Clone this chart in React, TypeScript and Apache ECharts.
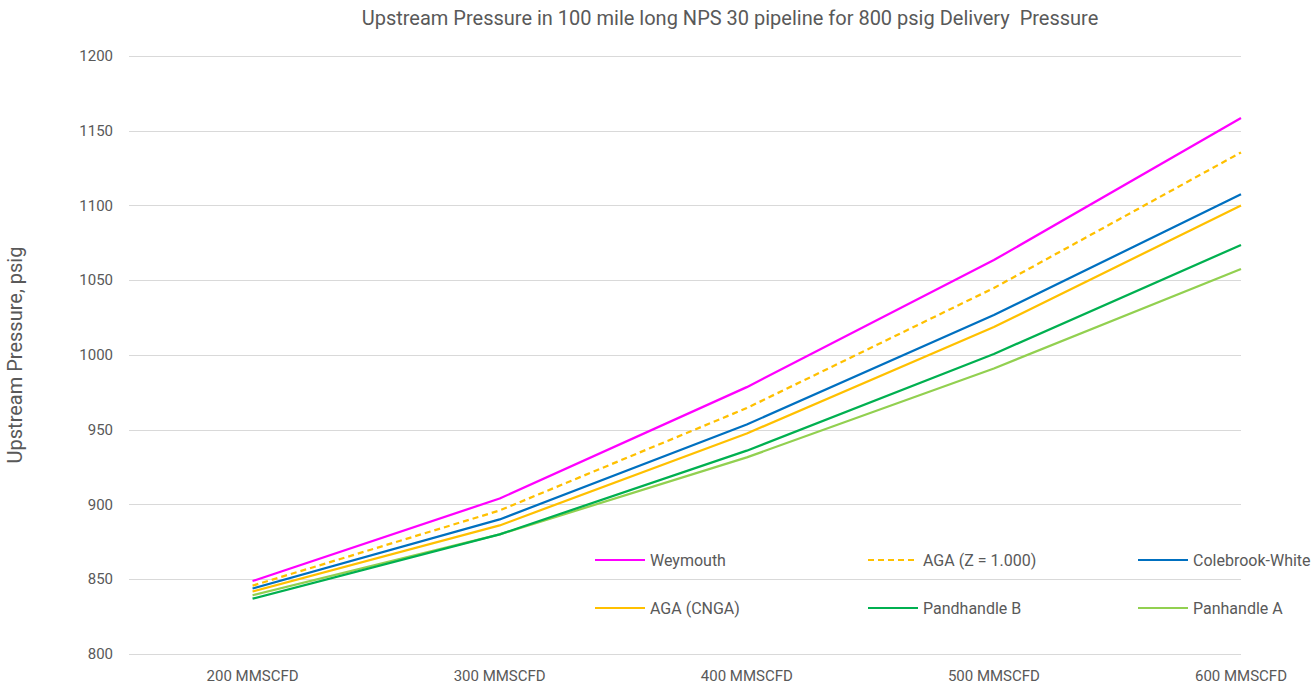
import React, { useEffect, useRef } from "react";
import * as echarts from "echarts";

const flows = [200, 300, 400, 500, 600];
const flowLabels = flows.map((f) => `${f} MMSCFD`);
const yTicks = [800, 850, 900, 950, 1000, 1050, 1100, 1150, 1200];

const seriesNames = [
  "Weymouth",
  "AGA (Z = 1.000)",
  "Colebrook-White",
  "AGA (CNGA)",
  "Pandhandle B",
  "Panhandle A",
];
const weymouth = [848.8, 904, 978.5, 1063.5, 1158.5];
const agaZ = [845.7, 896, 964.5, 1044.8, 1135.5];
const colebrook = [843.8, 890, 953.5, 1026.7, 1107.5];
const agaCnga = [841.8, 886, 947.5, 1018.7, 1100];
const panhandleB = [837, 880, 936, 1000.7, 1073.6];
const panhandleA = [839.3, 880, 931.5, 991, 1057.5];

const seriesValues = [weymouth, agaZ, colebrook, agaCnga, panhandleB, panhandleA];
const seriesColors = ["#FF00FF", "#FFC000", "#0070C0", "#FFC000", "#00B050", "#92D050"];
const seriesDash: any[] = ["solid", [6, 4], "solid", "solid", "solid", "solid"];

const FONT = "'Liberation Sans Narrow', 'Roboto', sans-serif";
const GRAY = "#595959";

export default function App() {
  const ref = useRef<HTMLDivElement>(null);
  useEffect(() => {
    if (!ref.current) return;
    const chart = echarts.init(ref.current, undefined, { renderer: "svg" });
    const legendCol = (names: string[], left: number) => ({
      show: true,
      orient: "vertical",
      left,
      top: 547,
      itemWidth: 50,
      itemHeight: 14,
      itemGap: 32,
      data: names,
      itemStyle: { opacity: 0 },
      textStyle: { color: GRAY, fontSize: 16, fontFamily: FONT },
    });
    chart.setOption({
      animation: false,
      backgroundColor: "#ffffff",
      title: {
        text: "Upstream Pressure in 100 mile long NPS 30 pipeline for 800 psig Delivery  Pressure",
        left: 725,
        top: 3,
        textAlign: "center",
        textStyle: { color: GRAY, fontSize: 20, fontWeight: "normal", fontFamily: FONT },
      },
      legend: [
        legendCol([seriesNames[0], seriesNames[3]], 589),
        legendCol([seriesNames[1], seriesNames[4]], 862),
        legendCol([seriesNames[2], seriesNames[5]], 1132),
      ],
      grid: {
        left: 129,
        right: 74,
        top: 56,
        bottom: 33,
        containLabel: false,
        outerBoundsMode: "none",
      },
      xAxis: {
        type: "value",
        min: 150,
        max: 600,
        splitLine: { show: false },
        axisLine: { show: false },
        axisTick: { show: false },
        axisLabel: {
          customValues: flows,
          formatter: (v: number) => flowLabels[flows.indexOf(v)] ?? "",
          color: GRAY,
          fontSize: 15,
          fontFamily: FONT,
          margin: 14,
        },
      },
      yAxis: {
        type: "value",
        min: yTicks[0],
        max: yTicks[yTicks.length - 1],
        interval: 50,
        name: "Upstream Pressure, psig",
        nameLocation: "middle",
        nameGap: 104,
        nameRotate: 90,
        nameTextStyle: { color: GRAY, fontSize: 20, fontFamily: FONT },
        axisLine: { show: false },
        axisTick: { show: false },
        splitLine: { lineStyle: { color: "#D9D9D9", width: 1 } },
        axisLabel: {
          color: GRAY,
          fontSize: 15,
          fontFamily: FONT,
          margin: 16,
          formatter: (v: number) => String(v),
        },
      },
      series: seriesNames.map((name, i) => ({
        name,
        type: "line",
        symbol: "none",
        data: flows.map((f, j) => [f, seriesValues[i][j]]),
        color: seriesColors[i],
        lineStyle: { color: seriesColors[i], width: 2.25, type: seriesDash[i] },
        z: 10 - i,
      })),
    });
    return () => chart.dispose();
  }, []);
  return (
    <div
      ref={ref}
      style={{ position: "fixed", left: 0, top: 0, width: 1315, height: 687, background: "#fff" }}
    />
  );
}
